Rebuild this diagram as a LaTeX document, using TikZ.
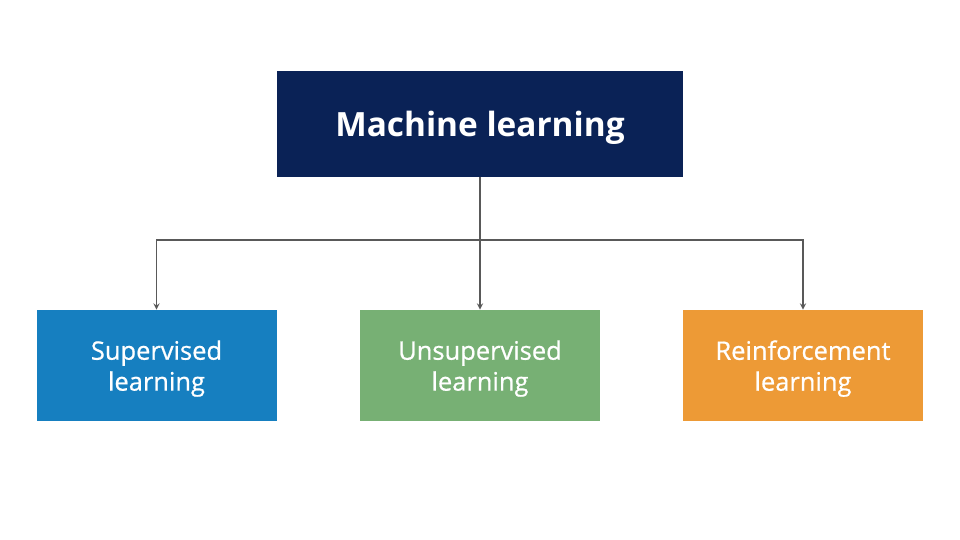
\documentclass[tikz,border=0pt]{standalone}
\usepackage{fontspec}
\setmainfont{Open Sans}
\newfontfamily\medfont[FakeBold=0.7]{Open Sans}
\usetikzlibrary{arrows}
\usepackage{xcolor}
\definecolor{mlnavy}{HTML}{0A2256}
\definecolor{supblue}{HTML}{167FC0}
\definecolor{unsgreen}{HTML}{77B074}
\definecolor{reforange}{HTML}{ED9A36}
\definecolor{edgegray}{HTML}{595959}

\begin{document}
\begin{tikzpicture}[x=0.02cm,y=-0.02cm]

\tikzset{box/.style = {shape=rectangle,text=white,align=center,inner sep=0pt,text depth=0pt,minimum width=240*0.02cm,minimum height=111*0.02cm,font=\medfont\fontsize{14.5}{17.6}\selectfont}}
\tikzset{edge/.style = {-stealth,draw=edgegray,line width=0.6pt}}
\useasboundingbox (0,0) rectangle (960,540);
\node[box,fill=mlnavy,minimum width=406*0.02cm,minimum height=106*0.02cm,font=\fontsize{19}{22}\bfseries\selectfont] (ml) at (480,124) {Machine learning};
\node[box,fill=supblue] (sup) at (156.5,365.5) {Supervised\\learning};
\node[box,fill=unsgreen] (uns) at (480,365.5) {Unsupervised\\learning};
\node[box,fill=reforange] (ref) at (803,365.5) {Reinforcement\\learning};
\coordinate (split) at (480,240);
%edges
\draw[edgegray,line width=0.6pt] (ml) -- (split);
\draw[edge] (split) -| (sup);
\draw[edge] (split) -- (uns);
\draw[edge] (split) -| (ref);
\end{tikzpicture}
\end{document}
